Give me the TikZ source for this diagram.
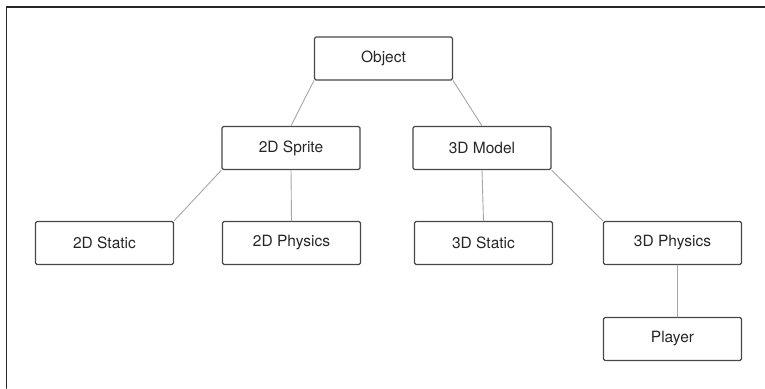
\documentclass[tikz,border=0pt]{standalone}
\usepackage{fontspec}
\setmainfont{TeX Gyre Heros}
\begin{document}
\begin{tikzpicture}[x=1pt,y=-1pt,line join=round,line cap=round]
\tikzstyle{box} = [draw=black!72,line width=1.2pt,rounded corners=1.5pt,minimum width=138pt,minimum height=43pt,inner sep=0pt,text=black!85,font=\fontsize{15.5}{18}\selectfont]
\tikzstyle{link} = [draw=black!35,line width=0.9pt]

\useasboundingbox (0,0) rectangle (765,388);
\draw[line width=1.8pt,black!85] (6.5,388) -- (6.5,7) -- (765,7);

\node[box] (O)  at (383.5,58.5) {Object};

\node[box] (S2) at (291,148)    {2D Sprite};
\node[box] (M3) at (482,148)    {3D Model};

\node[box] (S2s) at (104.5,243) {2D Static};
\node[box] (S2p) at (291.5,243) {2D Physics};
\node[box] (M3s) at (483.5,243) {3D Static};
\node[box] (M3p) at (672.5,243) {3D Physics};

\node[box] (P)  at (672.5,339)  {Player};

\draw[link] (O.south west) -- (S2.north);
\draw[link] (O.south east) -- (M3.north);
\draw[link] (S2.south west) -- (S2s.north east);
\draw[link] (S2.south) -- (S2p.north);
\draw[link] (M3.south) -- (M3s.north);
\draw[link] (M3.south east) -- (M3p.north west);
\draw[link] ([xshift=5pt]M3p.south) -- ([xshift=5pt]P.north);

\end{tikzpicture}
\end{document}
